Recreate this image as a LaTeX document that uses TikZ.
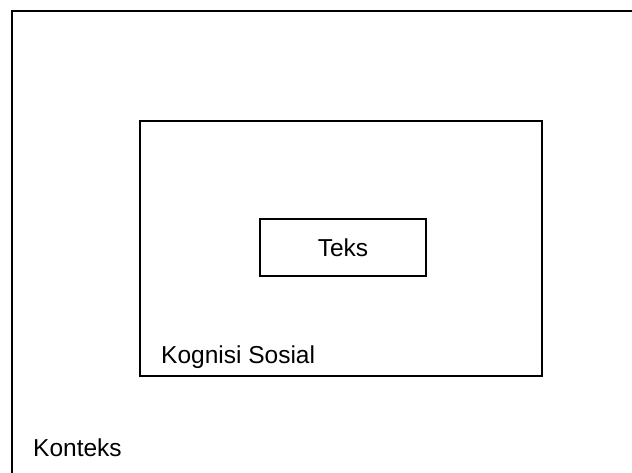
\documentclass[tikz,border=0pt]{standalone}
\usepackage{fontspec}
\setmainfont{Liberation Sans}
\begin{document}
\begin{tikzpicture}[x=1pt,y=1pt,
  box/.style={draw=black, line width=1.8pt, rectangle, inner sep=0pt, fill=white},
  lbl/.style={font=\fontsize{24.5}{29}\selectfont, inner sep=0pt, anchor=base west}]
\useasboundingbox (0,0) rectangle (632,473);
\clip (0,0) rectangle (632,473);
\fill[white] (0,0) rectangle (632,473);
\node[box, minimum width=628pt, minimum height=469pt] (konteks) at (326,227.5) {};
\node[box, minimum width=402pt, minimum height=255pt] (kognisi) at (341,224.5) {};
\node[box, minimum width=166pt, minimum height=57pt, font=\fontsize{24.5}{29}\selectfont] (teks) at (343,225.5) {Teks};
\node[lbl] (kognisilbl) at (161,109) {Kognisi Sosial};
\node[lbl] (kontekslbl) at (33,16) {Konteks};
\end{tikzpicture}
\end{document}
